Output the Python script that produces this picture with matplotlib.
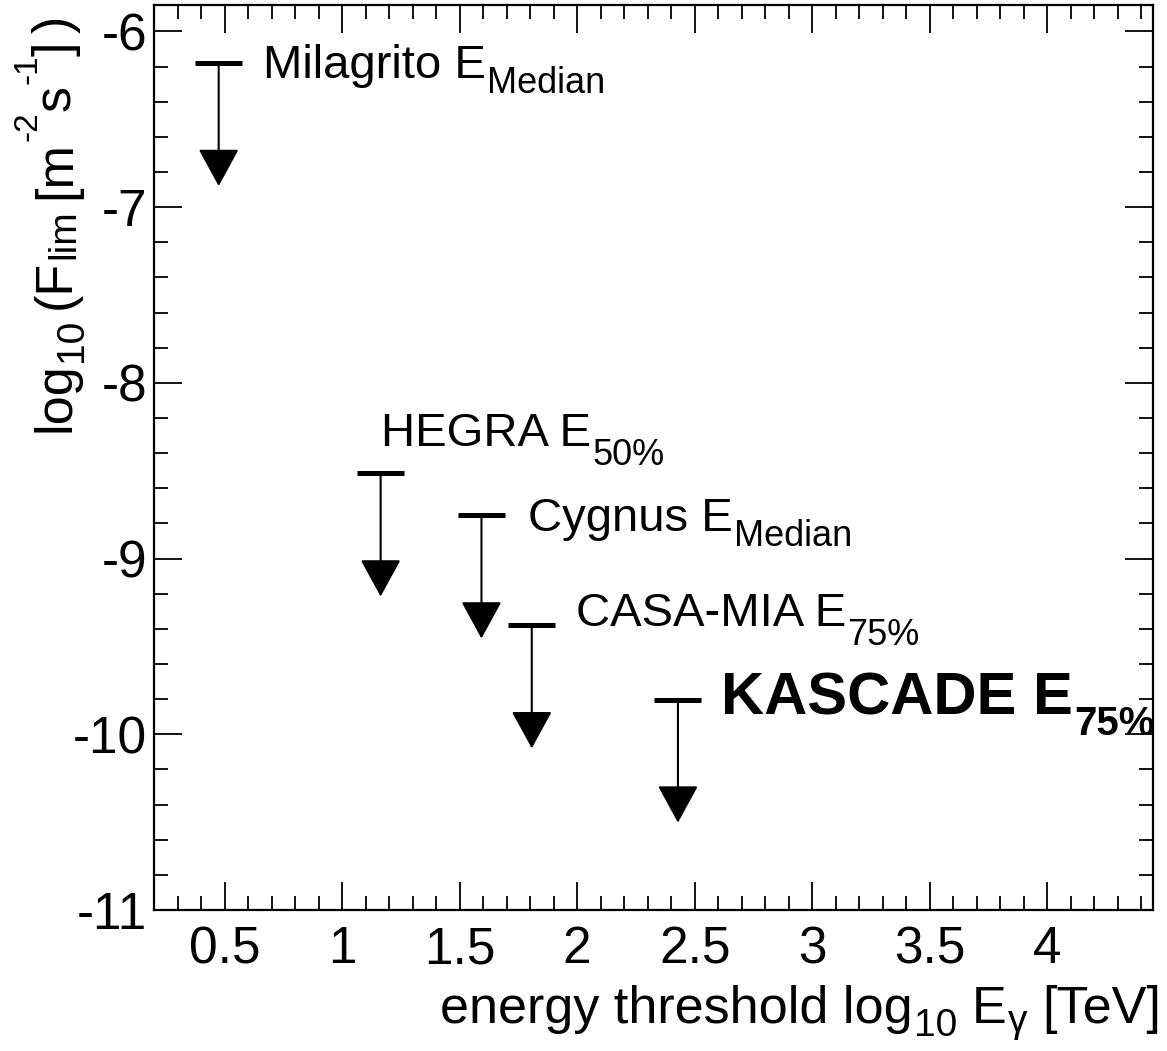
import numpy as np
import matplotlib
matplotlib.use("Agg")
import matplotlib.pyplot as plt
from matplotlib.ticker import MultipleLocator

plt.rcParams["font.family"] = ["Liberation Sans", "DejaVu Sans"]
plt.rcParams["axes.unicode_minus"] = False

# upper limits: log10 threshold energy [TeV], log10 flux limit [m^-2 s^-1]
experiments = ["Milagrito", "HEGRA", "Cygnus", "CASA-MIA", "KASCADE"]
log_e = [0.475, 1.164, 1.593, 1.807, 2.429]
log_flux = [-6.18, -8.516, -8.755, -9.38, -9.803]
energy_def = ["Median", "50%", "Median", "75%", "75%"]
x_halfwidth = 0.1
arrow_len = 0.70

# label anchors (data coords, left/baseline)
label_pos = [(0.664, -6.265), (1.166, -8.36), (1.79, -8.844),
             (1.995, -9.386), (2.611, -9.889)]

DESC = 0.212  # descent of "lp" in em, used to go from bbox bottom to baseline


def chain(first, pieces, main_size, rotated=False):
    """ROOT/TLatex-like run of text pieces with sub/superscripts.
    pieces: (text, size, shift_pt, gap_pt, weight); shift < 0 lowers, > 0 raises,
    shift None means a main-level piece."""
    last_main = first
    prev = first
    for txt, size, shift, gap, weight in pieces:
        dy = 0.0 if shift is None else shift + DESC * (main_size - size)
        if not rotated:
            a = ax.annotate(txt, xy=(1, 0), xycoords=(prev, last_main),
                            xytext=(gap, dy), textcoords="offset points",
                            ha="left", va="bottom", fontsize=size,
                            fontweight=weight, annotation_clip=False)
        else:
            a = ax.annotate(txt, xy=(1, 1), xycoords=(last_main, prev),
                            xytext=(-dy, gap), textcoords="offset points",
                            ha="right", va="bottom", fontsize=size, rotation=90,
                            fontweight=weight, annotation_clip=False)
        prev = a
        if shift is None:
            last_main = a


fig = plt.figure(figsize=(11.67, 10.51), dpi=100)
ax = fig.add_axes([0.132, 0.1342, 0.988 - 0.132, 0.9952 - 0.1342])

ax.errorbar(log_e, log_flux, xerr=x_halfwidth, fmt="none", ecolor="black",
            elinewidth=3.6, capsize=0)
for x, y in zip(log_e, log_flux):
    ax.annotate("", xy=(x, y - arrow_len), xytext=(x, y),
                arrowprops=dict(arrowstyle="-|>,head_length=1.19,head_width=0.65",
                                mutation_scale=20, lw=1.5, color="black",
                                shrinkA=0, shrinkB=0))

for i, (name, sub) in enumerate(zip(experiments, energy_def)):
    px, py = label_pos[i]
    if name == "KASCADE":
        size, ssize, weight, drop = 43, 29, "bold", 14.4
    else:
        size, ssize, weight = 34, 26, "normal"
        drop = 10.8 if sub == "Median" else 14.0
    t = ax.text(px, py, name + " E", fontsize=size, fontweight=weight,
                ha="left", va="baseline", clip_on=False)
    chain(t, [(sub, ssize, -drop, 1, weight)], size)

ax.set_xlim(0.2, 4.45)
ax.set_ylim(-11, -5.85)
ax.xaxis.set_major_locator(MultipleLocator(0.5))
ax.xaxis.set_minor_locator(MultipleLocator(0.1))
ax.yaxis.set_major_locator(MultipleLocator(1))
ax.yaxis.set_minor_locator(MultipleLocator(0.2))
ax.set_xticks([0.5, 1, 1.5, 2, 2.5, 3, 3.5, 4])
ax.set_xticklabels(["0.5", "1", "1.5", "2", "2.5", "3", "3.5", "4"])
ax.set_yticks([-11, -10, -9, -8, -7, -6])
ax.set_yticklabels(["-11", "-10", "-9", "-8", "-7", "-6"])

ax.tick_params(which="both", direction="in", top=True, right=True,
               labelsize=37, width=1.3, color="black")
ax.tick_params(which="major", length=20)
ax.tick_params(which="minor", length=10)
ax.tick_params(axis="x", which="major", pad=11)
ax.tick_params(axis="y", which="major", pad=5)
for s in ax.spines.values():
    s.set_linewidth(1.6)

# axis titles
T = 37.5
S = 28
xt = fig.text(440 / 1167, 1 - 1023 / 1051, "energy threshold log",
              fontsize=T, ha="left", va="baseline")
chain(xt, [("10", S, -9.0, 1, "normal"),
           ("E", T, None, 10.4, "normal"),
           ("\u03b3", S, -6.5, 1, "normal"),
           ("[TeV]", T, None, 10.4, "normal")], T)

yt = fig.text(81 / 1167, 1 - 432 / 1051, "log", fontsize=T, rotation=90,
              ha="right", va="bottom")
chain(yt, [("10", S, -8.6, 0.5, "normal"),
           ("(F", T, None, 7, "normal"),
           ("lim", S, -3.0, 0.5, "normal"),
           ("[m", T, None, 7, "normal"),
           ("-2", 24, 24.0, 0.5, "normal"),
           ("s", T, None, 0, "normal"),
           ("-1", 24, 24.0, 0.5, "normal"),
           ("]", T, None, -1, "normal"),
           (")", T, None, 6, "normal")], T, rotated=True)

fig.savefig("out.png", dpi=100)
